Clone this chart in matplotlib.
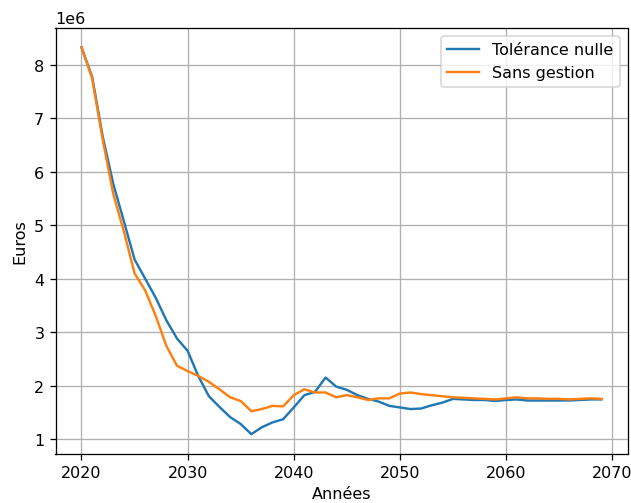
import matplotlib
matplotlib.use("Agg")
import matplotlib.pyplot as plt
import numpy as np

years = list(range(2020, 2070))

tolerance_nulle = [
    8.33, 7.78, 6.66, 5.77, 5.07, 4.36, 4.00, 3.64, 3.22, 2.88,
    2.65, 2.18, 1.80, 1.60, 1.41, 1.28, 1.09, 1.22, 1.31, 1.37,
    1.59, 1.82, 1.88, 2.15, 1.98, 1.92, 1.82, 1.75, 1.70, 1.62,
    1.59, 1.56, 1.57, 1.63, 1.68, 1.75, 1.74, 1.73, 1.73, 1.71,
    1.73, 1.74, 1.72, 1.72, 1.72, 1.72, 1.72, 1.73, 1.74, 1.74,
]

sans_gestion = [
    8.33, 7.75, 6.60, 5.58, 4.88, 4.10, 3.78, 3.30, 2.74, 2.37,
    2.27, 2.18, 2.07, 1.93, 1.78, 1.71, 1.52, 1.56, 1.62, 1.61,
    1.82, 1.93, 1.87, 1.87, 1.78, 1.82, 1.78, 1.73, 1.76, 1.76,
    1.85, 1.87, 1.84, 1.82, 1.80, 1.78, 1.77, 1.76, 1.75, 1.74,
    1.76, 1.78, 1.76, 1.76, 1.75, 1.75, 1.74, 1.75, 1.76, 1.75,
]

scale = 1e6

W, H, DPI = 631, 504, 115
fig = plt.figure(figsize=(W / DPI, H / DPI), dpi=DPI)
left, right, top, bottom = 55.5, 627.5, 29.0, 454.5
ax = fig.add_axes([left / W, 1 - bottom / H, (right - left) / W, (bottom - top) / H])

ax.plot(years, np.array(tolerance_nulle) * scale, label="Tolérance nulle")
ax.plot(years, np.array(sans_gestion) * scale, label="Sans gestion")

ax.set_xlabel("Années")
ax.set_ylabel("Euros")
ax.grid(True)
ax.legend(loc="upper right")

fig.savefig("out.png", dpi=DPI)
